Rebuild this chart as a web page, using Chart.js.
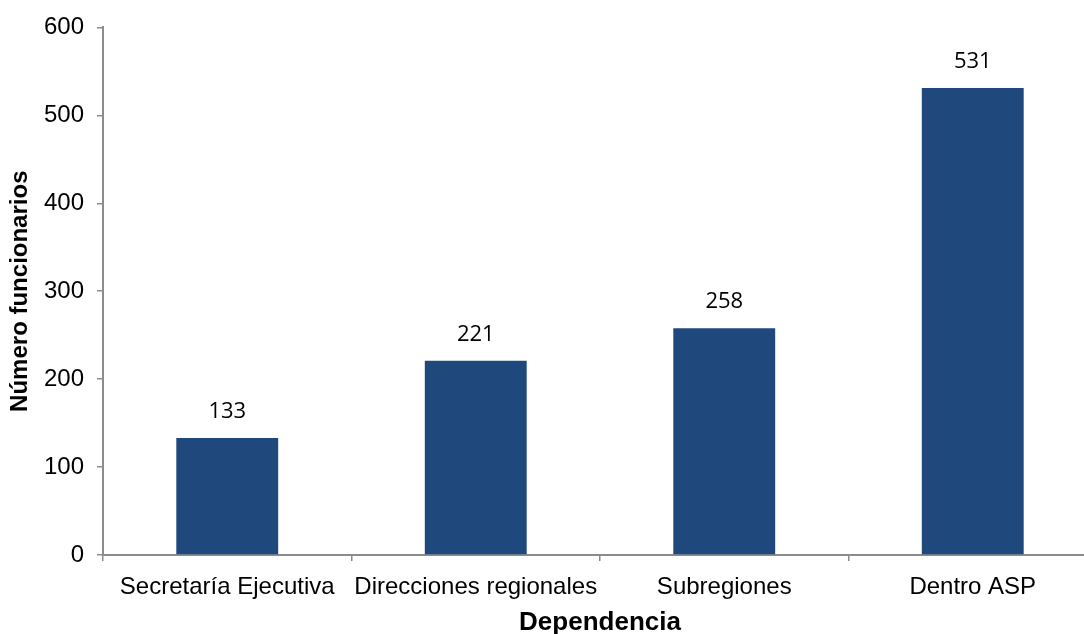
<!DOCTYPE html>
<html>
<head>
<meta charset="utf-8">
<script src="https://cdn.jsdelivr.net/npm/chart.js@4"></script>
<style>
  html, body { margin: 0; padding: 0; background: #fff; overflow: hidden; }
  #wrap { width: 1084px; height: 634px; overflow: hidden; }
</style>
</head>
<body>
<div id="wrap"><canvas id="chart" width="1100" height="634"></canvas></div>
<script>
// data
const categories = ["Secretaría Ejecutiva", "Direcciones regionales", "Subregiones", "Dentro ASP"];
const funcionarios = [133, 221, 258, 531];
const yTicks = [0, 100, 200, 300, 400, 500, 600];

const axisGrey = "#8c8c8c";

// value labels above each bar
const barLabels = {
  id: "barLabels",
  afterDatasetsDraw(chart) {
    const ctx = chart.ctx;
    const meta = chart.getDatasetMeta(0);
    ctx.save();
    ctx.font = "22px 'Open Sans'";
    ctx.fillStyle = "#000";
    ctx.textAlign = "center";
    ctx.textBaseline = "middle";
    meta.data.forEach((bar, i) => {
      ctx.fillText(funcionarios[i], bar.x, bar.y - 26);
    });
    ctx.restore();
  }
};

new Chart(document.getElementById("chart"), {
  type: "bar",
  data: {
    labels: categories,
    datasets: [{
      data: funcionarios,
      backgroundColor: "#1F497D",
      categoryPercentage: 0.41,
      barPercentage: 1
    }]
  },
  options: {
    responsive: false,
    animation: false,
    layout: { padding: { top: 27, right: 3, left: 0, bottom: 0 } },
    plugins: { legend: { display: false }, tooltip: { enabled: false } },
    scales: {
      x: {
        afterFit(scale) { scale.height = 79; },
        grid: { drawOnChartArea: false, drawTicks: true, tickLength: 6, color: axisGrey, lineWidth: 1.5 },
        border: { display: true, color: axisGrey, width: 2 },
        ticks: { color: "#000", font: { family: "Liberation Sans, Arial", size: 24 }, padding: 12, maxRotation: 0 },
        title: {
          display: true, text: "Dependencia", color: "#000",
          font: { family: "Liberation Sans, Arial", size: 26, weight: "bold", lineHeight: 1 },
          padding: { top: 0, bottom: -2 }
        }
      },
      y: {
        min: 0, max: 600,
        afterFit(scale) { scale.width = 103; },
        afterBuildTicks(scale) { scale.ticks = yTicks.map(v => ({ value: v })); },
        grid: { drawOnChartArea: false, drawTicks: true, tickLength: 6, color: axisGrey, lineWidth: 1.5 },
        border: { display: true, color: axisGrey, width: 2 },
        ticks: { color: "#000", font: { family: "Liberation Sans, Arial", size: 24 }, padding: 13 },
        title: {
          display: true, text: "Número funcionarios", color: "#000",
          font: { family: "Liberation Sans, Arial", size: 24, weight: "bold", lineHeight: 1.2 },
          padding: { top: 6, bottom: 0 }
        }
      }
    }
  },
  plugins: [barLabels]
});
</script>
</body>
</html>
